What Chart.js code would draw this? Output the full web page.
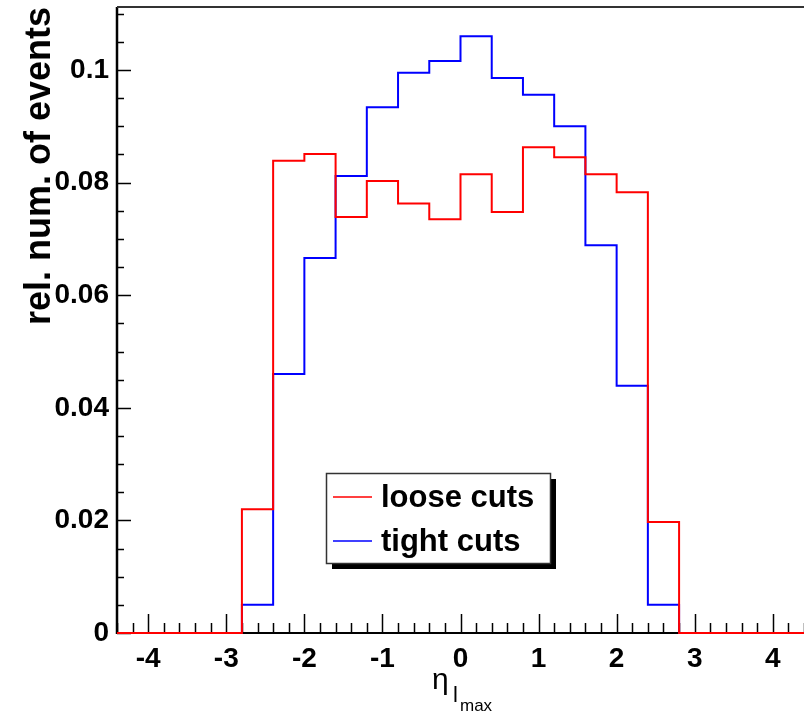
<!DOCTYPE html>
<html lang="en">
<head>
    <meta charset="UTF-8" />
    <title>eta lmax</title>
    <script src="https://cdn.jsdelivr.net/npm/chart.js"></script>
    <style>
        html, body { margin: 0; padding: 0; background: #fff; }
        #wrap { width: 804px; height: 714px; }
    </style>
</head>
<body>
<div id="wrap"><canvas id="c" width="804" height="714"></canvas></div>
<script>
// bin edges of the histogram (width 0.4)
const binEdges = [-4.4, -4.0, -3.6, -3.2, -2.8, -2.4, -2.0, -1.6, -1.2, -0.8, -0.4, 0.0,
                  0.4, 0.8, 1.2, 1.6, 2.0, 2.4, 2.8, 3.2, 3.6, 4.0, 4.4];
const looseCuts = [0, 0, 0, 0, 0.0220, 0.0839, 0.0851, 0.0739, 0.0803, 0.0763, 0.0735,
                   0.0815, 0.0748, 0.0863, 0.0845, 0.0815, 0.0783, 0.0197, 0, 0, 0, 0];
const tightCuts = [0, 0, 0, 0, 0.0050, 0.0460, 0.0666, 0.0812, 0.0934, 0.0995, 0.1016,
                   0.1060, 0.0986, 0.0956, 0.0900, 0.0689, 0.0439, 0.0050, 0, 0, 0, 0];
const seriesNames = ['loose cuts', 'tight cuts'];
const xTickLabels = [-4, -3, -2, -1, 0, 1, 2, 3, 4];
const yTickLabels = [0, 0.02, 0.04, 0.06, 0.08, 0.1];

const FONT = '"Liberation Sans", Arial, sans-serif';

function steps(vals) {
    const pts = vals.map((v, i) => ({ x: binEdges[i], y: v }));
    pts.push({ x: binEdges[binEdges.length - 1], y: vals[vals.length - 1] });
    return pts;
}

function noPad(s) {
    s.paddingTop = 0; s.paddingBottom = 0;
    s.paddingLeft = 0; s.paddingRight = 0;
}

// ROOT-like frame, ticks, axis titles and legend box
const rootStyle = {
    id: 'rootStyle',
    beforeDatasetsDraw(chart) {
        const ctx = chart.ctx;
        const x = chart.scales.x, y = chart.scales.y;
        const a = chart.chartArea;
        ctx.save();
        ctx.strokeStyle = '#000';
        ctx.lineWidth = 1.5;
        ctx.beginPath();
        // x ticks, pointing up
        for (let v = -4.4; v <= 4.41; v += 0.2) {
            const vv = Math.round(v * 10) / 10;
            const major = Math.abs(vv - Math.round(vv)) < 1e-6;
            const px = Math.round(x.getPixelForValue(vv)) + 0.5;
            ctx.moveTo(px, a.bottom);
            ctx.lineTo(px, a.bottom - (major ? 19 : 10));
        }
        // y ticks, pointing right
        for (let v = 0; v <= y.max + 1e-9; v += 0.005) {
            const vv = Math.round(v * 1000) / 1000;
            const major = Math.abs(vv / 0.02 - Math.round(vv / 0.02)) < 1e-6;
            const py = Math.round(y.getPixelForValue(vv)) + 0.5;
            ctx.moveTo(a.left, py);
            ctx.lineTo(a.left + (major ? 14 : 7), py);
        }
        ctx.stroke();

        ctx.lineWidth = 2;
        ctx.beginPath();
        ctx.moveTo(a.left, a.bottom);
        ctx.lineTo(a.right, a.bottom);
        ctx.stroke();
        ctx.lineWidth = 2.5;
        ctx.beginPath();
        ctx.moveTo(a.left, a.top);
        ctx.lineTo(a.left, a.bottom + 1);
        ctx.stroke();
        ctx.strokeStyle = '#333';
        ctx.lineWidth = 2;
        ctx.beginPath();
        ctx.moveTo(a.left, a.top);
        ctx.lineTo(a.right, a.top);
        ctx.stroke();
        ctx.restore();
    },
    afterDatasetsDraw(chart) {
        const ctx = chart.ctx;
        ctx.save();
        ctx.fillStyle = '#000';

        // y title
        ctx.save();
        ctx.translate(50, 7);
        ctx.rotate(-Math.PI / 2);
        ctx.font = 'bold 36px ' + FONT;
        ctx.textAlign = 'right';
        ctx.textBaseline = 'alphabetic';
        ctx.fillText('rel. num. of events', 0, 0);
        ctx.restore();

        // x title: eta with subscript l_max
        ctx.textAlign = 'left';
        ctx.textBaseline = 'alphabetic';
        ctx.font = '30px ' + FONT;
        ctx.fillText('\u03b7', 432, 689);
        ctx.font = '22px ' + FONT;
        ctx.fillText('l', 453, 702);
        ctx.font = '17px ' + FONT;
        ctx.fillText('max', 460, 711);

        // legend box with shadow
        const lx = 326, ly = 473, lw = 224, lh = 90;
        ctx.fillStyle = '#000';
        ctx.fillRect(lx + 6, ly + 6, lw, lh);
        ctx.fillStyle = '#fff';
        ctx.fillRect(lx, ly, lw, lh);
        ctx.strokeStyle = '#333';
        ctx.lineWidth = 1.5;
        ctx.strokeRect(lx + 0.5, ly + 0.5, lw, lh);
        ctx.font = 'bold 31px ' + FONT;
        ctx.textBaseline = 'middle';
        chart.data.datasets.forEach((ds, i) => {
            const yy = ly + 24 + i * 44;
            ctx.strokeStyle = ds.borderColor;
            ctx.lineWidth = 1.5;
            ctx.beginPath();
            ctx.moveTo(lx + 7, yy);
            ctx.lineTo(lx + 46, yy);
            ctx.stroke();
            ctx.fillStyle = '#000';
            ctx.fillText(ds.label, lx + 55, yy + 1);
        });
        ctx.restore();
    }
};

new Chart(document.getElementById('c'), {
    type: 'line',
    data: {
        datasets: [
            { label: seriesNames[0], data: steps(looseCuts), borderColor: '#ff0000', borderWidth: 2,
              stepped: 'before', pointRadius: 0, fill: false, clip: false, order: 0 },
            { label: seriesNames[1], data: steps(tightCuts), borderColor: '#0000ff', borderWidth: 2,
              stepped: 'before', pointRadius: 0, fill: false, clip: false, order: 1 }
        ]
    },
    options: {
        responsive: false,
        animation: false,
        layout: { padding: { left: 0, right: 0, top: 7, bottom: 0 } },
        plugins: { legend: { display: false }, tooltip: { enabled: false } },
        scales: {
            x: {
                type: 'linear',
                min: -4.4,
                max: 4.4,
                afterFit: s => { s.height = 81; noPad(s); },
                afterBuildTicks: s => { s.ticks = xTickLabels.map(v => ({ value: v })); },
                grid: { display: false, drawTicks: false },
                border: { display: false },
                ticks: {
                    padding: 9,
                    color: '#000',
                    font: { family: FONT, size: 28, weight: 'bold' },
                    callback: v => String(v)
                }
            },
            y: {
                min: 0,
                max: 0.1112,
                afterFit: s => { s.width = 117; noPad(s); },
                afterBuildTicks: s => { s.ticks = yTickLabels.map(v => ({ value: v })); },
                grid: { display: false, drawTicks: false },
                border: { display: false },
                ticks: {
                    padding: 8,
                    color: '#000',
                    font: { family: FONT, size: 28, weight: 'bold' },
                    callback: v => String(v)
                }
            }
        }
    },
    plugins: [rootStyle]
});
</script>
</body>
</html>
